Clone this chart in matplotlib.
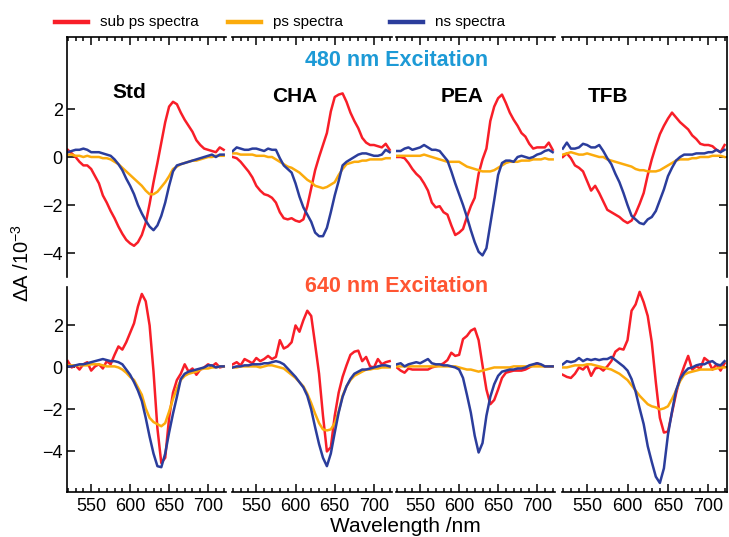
"""Transient absorption spectra of Std / CHA / PEA / TFB films.

Two rows (480 nm and 640 nm excitation), four samples side by side,
sub-ps, ps and ns spectra overlaid in each panel.
"""

import numpy as np
import matplotlib
matplotlib.use("Agg")  # headless
import matplotlib.pyplot as plt
from matplotlib.lines import Line2D
from matplotlib.ticker import MultipleLocator

plt.rcParams["font.family"] = ["Liberation Sans", "DejaVu Sans"]
plt.rcParams["mathtext.fontset"] = "custom"
plt.rcParams["mathtext.rm"] = "Liberation Sans"
plt.rcParams["mathtext.default"] = "regular"

# --- Data (dA in 1e-3, every 5 nm) -------------------------------------
wavelength = np.arange(520, 721, 5)
samples = ["Std", "CHA", "PEA", "TFB"]
series_labels = ["sub ps spectra", "ps spectra", "ns spectra"]

# 480 nm excitation
sub_480_std = [0.3, 0.15, 0.0, -0.2, -0.35, -0.35, -0.5, -0.8, -1.1, -1.6,
               -1.9, -2.25, -2.55, -2.9, -3.2, -3.45, -3.6, -3.7, -3.55, -3.25,
               -2.75, -1.95, -1.05, -0.25, 0.6, 1.45, 2.1, 2.3, 2.2, 1.85,
               1.55, 1.3, 1.05, 0.7, 0.5, 0.35, 0.3, 0.25, 0.2, 0.4, 0.3]
ps_480_std = [0.1, 0.1, 0.05, 0.05, 0.0, 0.05, 0.0, 0.0, 0.0, -0.05,
              -0.05, -0.1, -0.2, -0.3, -0.45, -0.6, -0.75, -0.9, -1.05, -1.2,
              -1.4, -1.55, -1.55, -1.45, -1.25, -1.05, -0.8, -0.5, -0.4, -0.3,
              -0.25, -0.2, -0.15, -0.15, -0.1, -0.05, 0.0, 0.0, 0.05, 0.05, 0.05]
ns_480_std = [0.2, 0.25, 0.3, 0.3, 0.35, 0.3, 0.2, 0.2, 0.2, 0.15,
              0.1, 0.05, -0.1, -0.3, -0.55, -0.9, -1.2, -1.55, -2.0, -2.35,
              -2.65, -2.9, -3.05, -2.85, -2.45, -1.9, -1.2, -0.6, -0.35, -0.3,
              -0.25, -0.2, -0.15, -0.1, -0.05, 0.0, 0.05, 0.1, 0.0, 0.1, 0.1]

sub_480_cha = [0.0, -0.05, -0.2, -0.4, -0.6, -0.85, -1.2, -1.4, -1.55, -1.6,
               -1.7, -1.9, -2.3, -2.55, -2.6, -2.55, -2.65, -2.7, -2.6, -2.05,
               -1.3, -0.55, 0.0, 0.5, 1.0, 1.9, 2.5, 2.6, 2.65, 2.3,
               1.85, 1.5, 1.2, 0.8, 0.6, 0.5, 0.5, 0.45, 0.4, 0.55, 0.3]
ps_480_cha = [0.15, 0.15, 0.1, 0.1, 0.1, 0.1, 0.05, 0.05, 0.05, 0.0,
              0.0, -0.1, -0.2, -0.3, -0.4, -0.45, -0.55, -0.65, -0.8, -0.95,
              -1.05, -1.2, -1.25, -1.3, -1.25, -1.15, -1.05, -0.75, -0.5, -0.3,
              -0.25, -0.2, -0.2, -0.15, -0.15, -0.1, -0.1, -0.1, -0.1, -0.05, -0.05]
ns_480_cha = [0.25, 0.4, 0.35, 0.3, 0.3, 0.35, 0.35, 0.3, 0.25, 0.35,
              0.3, 0.3, -0.05, -0.35, -0.5, -0.65, -1.1, -1.65, -2.1, -2.4,
              -2.7, -3.15, -3.3, -3.3, -2.95, -2.3, -1.6, -1.0, -0.35, -0.2,
              -0.1, 0.0, 0.1, 0.15, 0.15, 0.1, 0.05, 0.05, 0.1, 0.3, 0.2]

sub_480_pea = [0.0, 0.0, -0.05, -0.25, -0.5, -0.7, -0.85, -1.1, -1.4, -1.9,
               -2.1, -2.05, -2.3, -2.4, -2.85, -3.25, -3.15, -3.0, -2.5, -2.05,
               -1.7, -0.7, -0.1, 0.35, 1.5, 2.1, 2.45, 2.6, 2.25, 1.85,
               1.55, 1.3, 1.0, 0.85, 0.55, 0.35, 0.4, 0.4, 0.4, 0.6, 0.3]
ps_480_pea = [0.05, 0.05, 0.05, 0.05, 0.05, 0.05, 0.05, 0.1, 0.05, 0.0,
              -0.05, -0.1, -0.15, -0.2, -0.2, -0.2, -0.2, -0.3, -0.4, -0.45,
              -0.5, -0.55, -0.6, -0.6, -0.6, -0.55, -0.45, -0.35, -0.25, -0.2,
              -0.2, -0.2, -0.15, -0.15, -0.15, -0.1, -0.1, -0.1, -0.05, -0.1, -0.1]
ns_480_pea = [0.25, 0.25, 0.35, 0.4, 0.3, 0.35, 0.4, 0.5, 0.4, 0.3,
              0.3, 0.25, 0.05, -0.15, -0.6, -1.1, -1.55, -2.0, -2.5, -3.05,
              -3.55, -3.95, -4.1, -3.8, -2.8, -1.8, -0.75, -0.25, -0.15, -0.15,
              -0.2, 0.0, 0.05, 0.0, -0.05, 0.0, 0.1, 0.15, 0.25, 0.3, 0.2]

sub_480_tfb = [0.0, 0.15, -0.05, -0.35, -0.45, -0.6, -1.0, -1.4, -1.2, -1.5,
               -1.85, -2.2, -2.3, -2.4, -2.5, -2.65, -2.75, -2.65, -2.35, -1.95,
               -1.5, -0.75, -0.1, 0.45, 0.95, 1.3, 1.6, 1.85, 1.65, 1.45,
               1.3, 1.15, 0.9, 0.75, 0.55, 0.5, 0.5, 0.45, 0.3, 0.2, 0.5]
ps_480_tfb = [0.1, 0.15, 0.2, 0.15, 0.1, 0.1, 0.15, 0.1, 0.05, 0.0,
              0.0, -0.1, -0.15, -0.2, -0.25, -0.3, -0.35, -0.4, -0.5, -0.55,
              -0.55, -0.6, -0.6, -0.6, -0.55, -0.45, -0.35, -0.25, -0.15, -0.1,
              -0.1, -0.1, -0.05, -0.05, 0.0, 0.0, 0.0, 0.05, 0.05, 0.05, 0.0]
ns_480_tfb = [0.35, 0.6, 0.35, 0.35, 0.4, 0.55, 0.5, 0.4, 0.4, 0.5,
              0.25, -0.05, -0.3, -0.7, -1.05, -1.5, -2.0, -2.45, -2.6, -2.75,
              -2.8, -2.6, -2.5, -2.25, -1.8, -1.35, -0.8, -0.45, -0.15, 0.0,
              0.1, 0.1, 0.1, 0.15, 0.15, 0.15, 0.2, 0.2, 0.3, 0.2, 0.3]

# 640 nm excitation
sub_640_std = [0.3, 0.0, 0.1, -0.1, 0.15, 0.25, -0.15, 0.05, 0.15, -0.05,
               0.3, 0.15, 0.6, 1.0, 0.85, 1.2, 1.65, 2.1, 2.9, 3.5,
               3.15, 2.0, -0.2, -2.9, -4.55, -4.3, -2.4, -1.2, -0.6, -0.3,
               0.15, -0.2, -0.05, -0.35, -0.1, 0.0, 0.15, 0.05, 0.2, 0.0, 0.05]
ps_640_std = [0.1, 0.1, 0.1, 0.1, 0.1, 0.1, 0.15, 0.15, 0.15, 0.1,
              0.05, 0.05, 0.05, 0.0, -0.1, -0.25, -0.45, -0.6, -0.95, -1.3,
              -1.95, -2.4, -2.6, -2.7, -2.8, -2.65, -2.1, -1.5, -1.0, -0.6,
              -0.4, -0.3, -0.25, -0.2, -0.1, -0.05, -0.05, 0.0, 0.0, 0.05, 0.05]
ns_640_std = [0.05, 0.05, 0.1, 0.15, 0.15, 0.2, 0.25, 0.3, 0.35, 0.4,
              0.35, 0.3, 0.3, 0.25, 0.15, -0.1, -0.35, -0.7, -1.1, -1.6,
              -2.4, -3.3, -4.1, -4.7, -4.75, -4.1, -3.1, -2.2, -1.4, -0.55,
              -0.3, -0.2, -0.15, -0.1, -0.05, 0.0, 0.1, 0.1, 0.0, 0.05, 0.05]

sub_640_cha = [0.15, 0.25, 0.1, 0.4, 0.3, 0.2, 0.45, 0.3, 0.4, 0.55,
               0.4, 0.5, 1.3, 0.9, 1.0, 1.2, 2.0, 1.7, 2.25, 2.7,
               2.45, 1.1, -0.3, -2.3, -4.0, -3.8, -2.3, -1.2, -0.45, 0.1,
               0.6, 0.75, 0.8, 0.3, 0.5, 0.05, 0.0, 0.4, 0.15, 0.25, 0.3]
ps_640_cha = [0.0, 0.0, 0.05, 0.05, 0.05, 0.05, 0.05, 0.0, 0.05, 0.1,
              0.1, 0.05, 0.0, -0.05, -0.2, -0.35, -0.5, -0.7, -0.9, -1.25,
              -1.7, -2.2, -2.65, -2.95, -3.0, -2.95, -2.65, -2.1, -1.35, -0.9,
              -0.6, -0.4, -0.3, -0.2, -0.1, -0.1, -0.05, -0.05, 0.0, 0.0, 0.0]
ns_640_cha = [0.0, 0.05, 0.05, 0.1, 0.1, 0.15, 0.15, 0.15, 0.2, 0.2,
              0.25, 0.3, 0.25, 0.15, -0.05, -0.25, -0.45, -0.7, -0.95, -1.35,
              -2.0, -2.85, -3.65, -4.3, -4.7, -4.1, -3.1, -2.15, -1.4, -0.9,
              -0.55, -0.3, -0.2, -0.1, -0.1, -0.05, 0.0, 0.05, 0.1, 0.1, 0.05]

sub_640_pea = [0.0, -0.15, -0.25, -0.05, -0.1, -0.1, -0.1, -0.1, -0.1, 0.0,
               0.05, 0.1, 0.2, 0.35, 0.7, 0.55, 0.6, 1.35, 1.5, 1.75,
               1.85, 1.3, 0.1, -1.05, -1.75, -1.55, -1.05, -0.5, -0.25, -0.2,
               -0.15, -0.15, -0.15, -0.1, 0.0, 0.1, 0.2, 0.1, 0.05, 0.05, 0.05]
ps_640_pea = [0.05, 0.05, 0.05, 0.05, 0.05, 0.05, 0.05, 0.05, 0.05, 0.05,
              0.05, 0.05, 0.05, 0.05, 0.05, 0.05, 0.0, -0.05, -0.1, -0.1,
              -0.15, -0.2, -0.15, -0.1, -0.05, 0.0, 0.0, 0.0, 0.0, 0.0,
              0.05, 0.05, 0.05, 0.05, 0.05, 0.05, 0.05, 0.05, 0.05, 0.05, 0.05]
ns_640_pea = [0.15, 0.2, 0.05, 0.15, 0.2, 0.25, 0.2, 0.3, 0.4, 0.2,
              0.15, 0.15, 0.1, 0.1, 0.05, 0.0, -0.1, -0.5, -1.3, -2.15,
              -3.25, -4.05, -3.6, -2.3, -1.4, -0.8, -0.4, -0.2, -0.15, -0.1,
              -0.1, -0.05, -0.05, 0.0, 0.1, 0.15, 0.2, 0.15, 0.05, 0.05, 0.05]

sub_640_tfb = [-0.35, -0.45, -0.5, -0.3, 0.0, -0.1, 0.1, -0.4, -0.05, 0.0,
               -0.15, 0.05, 0.3, 0.75, 0.9, 0.85, 1.3, 2.7, 3.0, 3.6,
               3.1, 2.45, 1.2, -0.7, -2.4, -3.1, -3.05, -2.15, -1.25, -0.5,
               0.05, 0.55, -0.1, 0.05, -0.05, 0.45, 0.3, -0.1, 0.15, -0.15, 0.2]
ps_640_tfb = [0.0, 0.0, 0.05, 0.1, 0.1, 0.1, 0.15, 0.15, 0.1, 0.05,
              0.0, -0.05, -0.1, -0.2, -0.3, -0.45, -0.6, -0.85, -1.1, -1.35,
              -1.55, -1.75, -1.85, -1.9, -2.0, -1.95, -1.85, -1.5, -1.1, -0.65,
              -0.35, -0.25, -0.2, -0.15, -0.1, -0.1, -0.1, -0.1, -0.05, 0.0, 0.0]
ns_640_tfb = [0.15, 0.3, 0.25, 0.3, 0.45, 0.3, 0.4, 0.35, 0.4, 0.35,
              0.4, 0.4, 0.5, 0.35, 0.2, 0.05, -0.15, -0.55, -1.15, -1.95,
              -2.7, -3.75, -4.5, -5.2, -5.5, -4.8, -3.2, -2.1, -1.1, -0.55,
              -0.25, -0.05, 0.0, 0.1, 0.15, 0.15, 0.25, 0.3, 0.15, 0.1, 0.3]

rows = [
    [(sub_480_std, ps_480_std, ns_480_std), (sub_480_cha, ps_480_cha, ns_480_cha),
     (sub_480_pea, ps_480_pea, ns_480_pea), (sub_480_tfb, ps_480_tfb, ns_480_tfb)],
    [(sub_640_std, ps_640_std, ns_640_std), (sub_640_cha, ps_640_cha, ns_640_cha),
     (sub_640_pea, ps_640_pea, ns_640_pea), (sub_640_tfb, ps_640_tfb, ns_640_tfb)],
]
row_titles = ["480 nm Excitation", "640 nm Excitation"]

# --- Styling / layout (pixels of a 729x537 canvas) ----------------------
COLORS = ["#f81e28", "#fbab0c", "#2b3d9c"]
TITLE_COLORS = ["#1d9ad6", "#ff5532"]
W, H = 729, 537
COLS = [(67, 226), (232, 392), (396, 555), (562, 727)]
ROWS = [(37, 277), (287, 492)]
YLIMS = [(-5.0, 5.0), (-5.93, 3.83)]
XLIM = (519, 723)

fig = plt.figure(figsize=(W / 100, H / 100), dpi=100)

for r, (y0, y1) in enumerate(ROWS):
    for c, (x0, x1) in enumerate(COLS):
        ax = fig.add_axes([x0 / W, 1 - y1 / H, (x1 - x0) / W, (y1 - y0) / H])
        for values, color in zip(rows[r][c], COLORS):
            ax.plot(wavelength, values, color=color, lw=1.8, solid_joinstyle="round")
        ax.set_xlim(*XLIM)
        ax.set_ylim(*YLIMS[r])

        for side in ["top", "bottom", "left", "right"]:
            ax.spines[side].set_visible(False)
            ax.spines[side].set_linewidth(1.2)
        ax.spines["top" if r == 0 else "bottom"].set_visible(True)
        if c == 0:
            ax.spines["left"].set_visible(True)
        if c == 3:
            ax.spines["right"].set_visible(True)

        ax.xaxis.set_major_locator(MultipleLocator(50))
        ax.xaxis.set_minor_locator(MultipleLocator(10))
        ax.tick_params(axis="x", which="both", direction="in",
                       top=(r == 0), bottom=(r == 1),
                       labeltop=False, labelbottom=(r == 1),
                       labelsize=13, pad=4, width=1.1)
        ax.tick_params(axis="x", which="major", length=6)
        ax.tick_params(axis="x", which="minor", length=3)

        ax.set_yticks([-4, -2, 0, 2])
        ax.tick_params(axis="y", which="both", direction="in",
                       left=(c == 0), right=(c == 3),
                       labelleft=(c == 0), labelright=False,
                       labelsize=13, pad=3, length=6, width=1.1)

# sample names
for name, (px, py) in zip(samples, [(129, 92), (295, 96), (462, 97), (608, 96)]):
    fig.text(px / W, 1 - py / H, name, fontsize=15, fontweight="bold",
             ha="center", va="center")

# row titles
for title, color, py in zip(row_titles, TITLE_COLORS, [60, 286]):
    fig.text(397 / W, 1 - py / H, title, color=color, fontsize=15.5,
             fontweight="bold", ha="center", va="center")

# axis labels
fig.text(22 / W, 1 - 263 / H, r"ΔA /10$^{-3}$", rotation=90,
         fontsize=14.5, ha="center", va="center")
fig.text(405 / W, 1 - 532.5 / H, "Wavelength /nm", fontsize=15,
         ha="center", va="baseline")

# legend drawn by hand along the top edge
for label, color, lx in zip(series_labels, COLORS, [55, 228, 390]):
    fig.add_artist(Line2D([lx / W, (lx + 33) / W], [1 - 22 / H, 1 - 22 / H],
                          color=color, lw=3.2, transform=fig.transFigure))
    fig.text((lx + 45) / W, 1 - 22 / H, label, fontsize=11,
             ha="left", va="center")

fig.savefig("out.png", dpi=100)
